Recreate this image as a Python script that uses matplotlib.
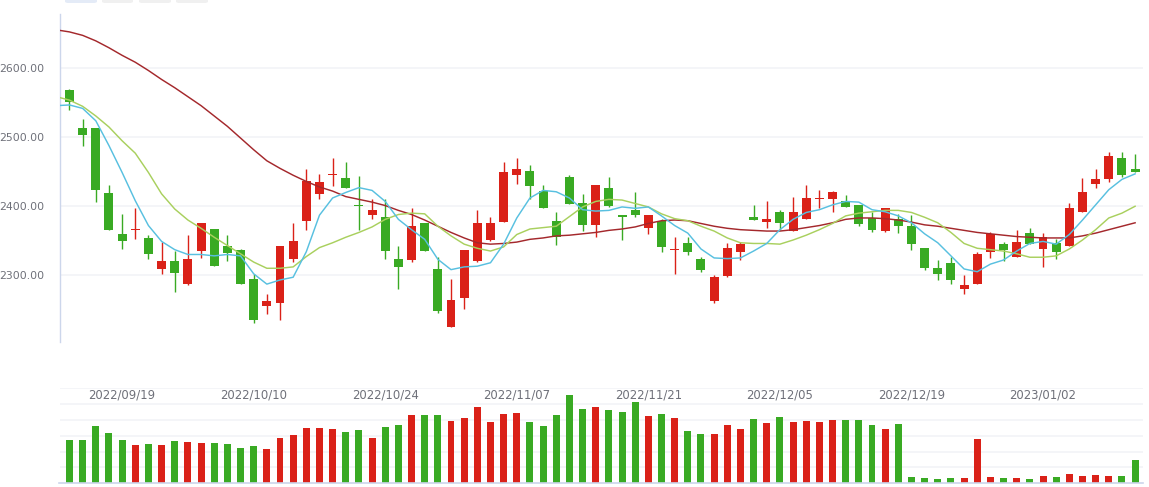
import numpy as np
import pandas as pd
import matplotlib
matplotlib.use("Agg")
import matplotlib.pyplot as plt
from matplotlib.patches import FancyBboxPatch

# daily candles, 2022/09/13 .. 2023/01/11 (Oct 3-7 holiday skipped)
opens = [2568, 2513, 2513, 2419, 2360, 2366, 2354, 2309, 2321, 2287,
         2335, 2367, 2343, 2336, 2294, 2255, 2259, 2323, 2379, 2418,
         2446, 2441, 2402, 2388, 2385, 2323, 2322, 2376, 2309, 2225,
         2267, 2321, 2351, 2377, 2445, 2451, 2422, 2379, 2443, 2405,
         2373, 2427, 2388, 2394, 2368, 2379, 2337, 2347, 2324, 2263,
         2299, 2334, 2385, 2377, 2391, 2364, 2381, 2411, 2410, 2408,
         2402, 2383, 2364, 2381, 2372, 2339, 2311, 2317, 2280, 2287,
         2334, 2345, 2327, 2361, 2338, 2346, 2342, 2391, 2432, 2440,
         2470, 2454]
highs = [2570, 2527, 2513, 2431, 2389, 2398, 2359, 2348, 2335, 2359,
         2375, 2367, 2359, 2338, 2301, 2273, 2343, 2375, 2454, 2447,
         2470, 2464, 2444, 2410, 2411, 2343, 2397, 2376, 2326, 2294,
         2336, 2395, 2384, 2464, 2470, 2460, 2431, 2392, 2446, 2418,
         2431, 2443, 2388, 2420, 2387, 2382, 2356, 2356, 2326, 2300,
         2346, 2348, 2402, 2408, 2394, 2414, 2431, 2423, 2422, 2417,
         2402, 2391, 2398, 2389, 2388, 2339, 2322, 2326, 2300, 2333,
         2362, 2348, 2365, 2368, 2361, 2352, 2404, 2441, 2454, 2479,
         2479, 2476]
lows = [2539, 2488, 2406, 2366, 2338, 2352, 2323, 2302, 2275, 2285,
        2325, 2313, 2321, 2287, 2230, 2244, 2235, 2319, 2365, 2410,
        2429, 2426, 2365, 2381, 2323, 2280, 2319, 2335, 2245, 2225,
        2251, 2319, 2349, 2377, 2432, 2411, 2397, 2344, 2403, 2364,
        2355, 2399, 2351, 2384, 2360, 2334, 2302, 2329, 2305, 2260,
        2298, 2322, 2380, 2368, 2365, 2364, 2381, 2397, 2391, 2399,
        2371, 2362, 2362, 2361, 2336, 2308, 2293, 2287, 2272, 2287,
        2325, 2321, 2327, 2345, 2312, 2324, 2342, 2391, 2427, 2435,
        2442, 2450]
closes = [2552, 2504, 2424, 2366, 2349, 2367, 2330, 2320, 2303, 2323,
          2375, 2313, 2332, 2287, 2235, 2262, 2343, 2350, 2436, 2435,
          2447, 2426, 2400, 2394, 2335, 2312, 2372, 2335, 2248, 2264,
          2336, 2375, 2375, 2450, 2454, 2430, 2397, 2355, 2403, 2373,
          2431, 2401, 2384, 2388, 2387, 2341, 2338, 2334, 2308, 2297,
          2339, 2345, 2380, 2382, 2375, 2392, 2412, 2412, 2420, 2399,
          2374, 2365, 2398, 2371, 2345, 2310, 2302, 2293, 2286, 2330,
          2360, 2336, 2348, 2345, 2355, 2334, 2398, 2421, 2440, 2473,
          2445, 2450]
volumes = [27.4, 27.4, 36.2, 31.8, 27.4, 24.2, 24.8, 24.2, 26.7, 26.1,
           25.5, 25.5, 24.8, 22.3, 23.6, 21.7, 28.6, 30.5, 34.9, 34.9,
           34.3, 32.4, 33.7, 28.6, 35.6, 36.8, 43.2, 43.2, 43.2, 39.4,
           41.3, 48.2, 38.7, 43.8, 44.4, 38.7, 36.2, 43.2, 55.8, 46.9,
           48.2, 46.3, 45.1, 51.4, 42.5, 43.8, 41.3, 33.1, 31.2, 31.2,
           36.8, 34.3, 40.6, 38.1, 41.9, 38.7, 39.4, 38.7, 40.0, 40.0,
           40.0, 36.8, 34.3, 37.5, 4.0, 3.4, 2.7, 3.4, 3.4, 28.0,
           4.0, 3.4, 3.4, 2.7, 4.6, 4.0, 5.9, 4.6, 5.3, 4.6,
           4.6, 14.7]

# moving averages, first value belongs to the day before the window
ma5 = [2546, 2547, 2542, 2524, 2488, 2449, 2408, 2372, 2349, 2337, 2330,
       2330, 2328, 2330, 2328, 2302, 2287, 2293, 2297, 2334, 2387,
       2412, 2420, 2427, 2423, 2407, 2381, 2366, 2352, 2323, 2308,
       2312, 2313, 2318, 2345, 2383, 2412, 2423, 2421, 2412, 2395,
       2393, 2394, 2399, 2397, 2399, 2386, 2372, 2361, 2338, 2325,
       2324, 2325, 2335, 2346, 2366, 2381, 2391, 2395, 2402, 2407,
       2406, 2395, 2392, 2386, 2376, 2360, 2347, 2328, 2309, 2305,
       2316, 2322, 2335, 2346, 2349, 2345, 2359, 2380, 2402, 2424,
       2439, 2447]
ma10 = [2559, 2554, 2545, 2531, 2515, 2495, 2477, 2449, 2418, 2396, 2380,
        2368, 2355, 2343, 2331, 2319, 2310, 2310, 2312, 2327, 2340,
        2347, 2355, 2362, 2370, 2381, 2388, 2390, 2389, 2371, 2357,
        2345, 2339, 2335, 2341, 2359, 2367, 2369, 2371, 2385, 2399,
        2407, 2410, 2409, 2404, 2399, 2389, 2382, 2379, 2371, 2364,
        2354, 2347, 2346, 2346, 2345, 2351, 2358, 2366, 2375, 2386,
        2390, 2392, 2394, 2394, 2391, 2384, 2376, 2362, 2346, 2339,
        2337, 2335, 2331, 2326, 2326, 2328, 2338, 2351, 2366, 2383,
        2390, 2400]
ma60 = [2656, 2653, 2648, 2640, 2630, 2619, 2609, 2597, 2584, 2572, 2559,
        2546, 2531, 2516, 2499, 2482, 2466, 2455, 2445, 2436, 2428,
        2422, 2414, 2410, 2406, 2401, 2394, 2388, 2380, 2371, 2362,
        2354, 2347, 2345, 2346, 2348, 2352, 2354, 2357, 2358, 2360,
        2362, 2365, 2367, 2370, 2375, 2379, 2380, 2379, 2375, 2371,
        2368, 2366, 2365, 2364, 2364, 2366, 2369, 2372, 2376, 2381,
        2383, 2383, 2382, 2380, 2377, 2373, 2371, 2368, 2365, 2362,
        2360, 2358, 2356, 2355, 2354, 2354, 2354, 2357, 2361, 2366,
        2371, 2376]

days = pd.bdate_range("2022-09-13", "2023-01-11")
days = [d for d in days if not (pd.Timestamp("2022-10-03") <= d <= pd.Timestamp("2022-10-07"))]
date_labels = [d.strftime("%Y/%m/%d") for d in days]

UP = "#da2118"
DOWN = "#39aa23"
GRID = "#f1f3f6"
AXIS = "#ccd6eb"
LABEL = "#6e7079"

x = np.arange(len(opens))
o = np.array(opens, float)
c = np.array(closes, float)
is_up = c >= o
colors = [UP if u else DOWN for u in is_up]

W, H = 1149, 487
fig = plt.figure(figsize=(W / 100, H / 100), dpi=100)

def frac_box(left, top, right, bottom):
    return [left / W, 1 - bottom / H, (right - left) / W, (bottom - top) / H]

ax = fig.add_axes(frac_box(59.5, 14, 1143, 342))
axv = fig.add_axes(frac_box(59.5, 388.3, 1143, 483.3))

xlim = (-0.76, 81.6)

# --- price panel ---
for v in [2300, 2400, 2500, 2600]:
    ax.axhline(v, color=GRID, lw=1.1, zorder=0)

ax.vlines(x, lows, highs, colors=colors, lw=1.0, zorder=2)
body = np.abs(c - o)
body = np.maximum(body, 1.4)
ax.bar(x, body, bottom=np.minimum(o, c), width=0.68, color=colors, lw=0, zorder=3)

xm = np.arange(-1, len(opens))
ax.plot(xm, ma60, color="#a4282c", lw=1.05, zorder=4)
ax.plot(xm, ma10, color="#a9d05e", lw=1.05, zorder=4)
ax.plot(xm, ma5, color="#58c0e0", lw=1.05, zorder=4)

ax.set_xlim(*xlim)
ax.set_ylim(2203, 2679)
ax.set_yticks([2300, 2400, 2500, 2600])
ax.set_yticklabels([f"{v:.2f}" for v in [2300, 2400, 2500, 2600]])
ax.tick_params(axis="y", length=0, pad=11, labelsize=7.8, labelcolor=LABEL)
ax.set_xticks([])
for s in ["top", "right", "bottom"]:
    ax.spines[s].set_visible(False)
ax.spines["left"].set_color(AXIS)
ax.spines["left"].set_linewidth(1.0)
ax.patch.set_alpha(0)

# --- volume panel ---
for v in range(10, 61, 10):
    axv.axhline(v, color=GRID, lw=1.1, zorder=0)
axv.bar(x, volumes, width=0.53, color=colors, lw=0, zorder=2)
axv.set_xlim(*xlim)
axv.set_ylim(0, 60)
axv.set_yticks([])
axv.set_xticks([])
for s in ["top", "right", "left"]:
    axv.spines[s].set_visible(False)
axv.spines["bottom"].set_color(AXIS)
axv.spines["bottom"].set_linewidth(1.2)
axv.patch.set_alpha(0)

for i in range(4, len(date_labels), 10):
    axv.text(i, 0.93, date_labels[i], transform=axv.get_xaxis_transform(),
             ha="center", va="center", fontsize=8.4, color=LABEL, zorder=5)

# faint buttons peeking in at the top edge
for (l, r), fc in zip([(65, 97), (102, 133), (139, 171), (176, 208)],
                      ["#e4ebf7", "#f0f0f0", "#f0f0f0", "#f0f0f0"]):
    fig.patches.append(FancyBboxPatch((l / W, 1 - 3 / H), (r - l) / W, 8 / H,
                                      boxstyle="round,pad=0,rounding_size=0.003",
                                      transform=fig.transFigure, fc=fc, ec="none"))

fig.savefig("out.png", dpi=100)
